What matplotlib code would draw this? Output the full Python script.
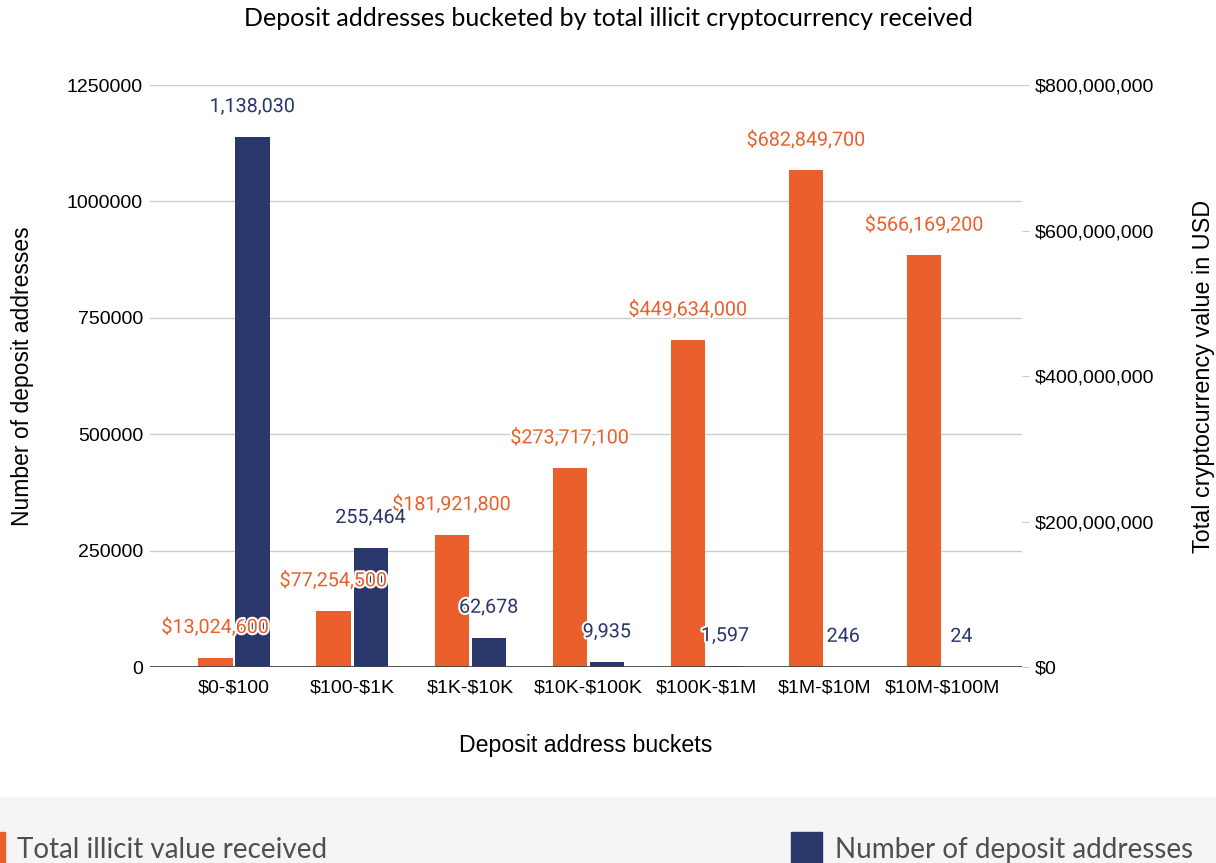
import numpy as np
import matplotlib.pyplot as plt
import matplotlib.patheffects as pe
from matplotlib.patches import Rectangle
from matplotlib.ticker import FuncFormatter

plt.rcParams['text.parse_math'] = False

# data
buckets = ['$0-$100', '$100-$1K', '$1K-$10K', '$10K-$100K', '$100K-$1M', '$1M-$10M', '$10M-$100M']
illicit_value = [13024600, 77254500, 181921800, 273717100, 449634000, 682849700, 566169200]
n_addresses = [1138030, 255464, 62678, 9935, 1597, 246, 24]

orange = '#EA5F2C'
navy = '#2A376A'

fig = plt.figure(figsize=(12.16, 8.63), dpi=100)
ax = fig.add_axes([0.1234, 0.2271, 0.7171, 0.6744])
ax2 = ax.twinx()

x = np.arange(len(buckets))
w = 0.29
off = 0.157

# orange on right axis, navy on left axis
ax2.bar(x - off, illicit_value, w, color=orange, zorder=3)
ax.bar(x + off, n_addresses, w, color=navy, zorder=3)

ax.set_ylim(0, 1250000)
ax2.set_ylim(0, 800000000)
ax.set_xlim(-0.71, 6.67)
ax.set_yticks([0, 250000, 500000, 750000, 1000000, 1250000])
ax.yaxis.set_major_formatter(FuncFormatter(lambda v, p: '{:.0f}'.format(v)))
ax2.set_yticks([0, 200000000, 400000000, 600000000, 800000000])
ax2.yaxis.set_major_formatter(FuncFormatter(lambda v, p: '${:,.0f}'.format(v)))

ax.grid(axis='y', color='#cccccc', linewidth=1, zorder=0)
ax.set_axisbelow(True)
for a in (ax, ax2):
    for s in ['top', 'left', 'right', 'bottom']:
        a.spines[s].set_visible(False)
ax2.axhline(0, color='#444444', linewidth=2, zorder=5)

tickfont = 'Liberation Sans'
ax.set_xticks(x)
ax.set_xticklabels(buckets, fontsize=14, family=tickfont)
ax.tick_params(axis='x', length=0, pad=9)
ax.tick_params(axis='y', length=0, pad=5, labelsize=14)
ax2.tick_params(axis='y', length=5, color='#cccccc', pad=4, labelsize=14)
for lab in ax.get_yticklabels() + ax2.get_yticklabels():
    lab.set_family(tickfont)

ax.set_ylabel('Number of deposit addresses', fontsize=16.5, family=tickfont, labelpad=24)
ax2.set_ylabel('Total cryptocurrency value in USD', fontsize=16.8, family=tickfont, labelpad=27)
ax.set_xlabel('Deposit address buckets', fontsize=16.7, family=tickfont, labelpad=27)

stroke = [pe.withStroke(linewidth=3, foreground='white')]
for xi, v in zip(x, illicit_value):
    ax2.annotate('${:,}'.format(v), (xi - off, v), xytext=(0, 22), textcoords='offset points',
                 ha='center', va='center', fontsize=14.2, color=orange, family='Roboto',
                 path_effects=stroke, zorder=6)
for xi, v in zip(x, n_addresses):
    ax2.annotate('{:,}'.format(v), (xi + off, v), xycoords=ax.transData, xytext=(0, 22),
                 textcoords='offset points', ha='center', va='center', fontsize=14.2,
                 color=navy, family='Roboto', path_effects=stroke, zorder=6)

fig.text(0.5, 0.979, 'Deposit addresses bucketed by total illicit cryptocurrency received',
         ha='center', va='center', fontsize=18, family='Lato')

# legend strip
fig.patches.append(Rectangle((0, 0), 1, 66 / 863, transform=fig.transFigure,
                             color='#f5f5f5', zorder=0))
fig.patches.append(Rectangle((0, 0), 5 / 1216, 31 / 863, transform=fig.transFigure,
                             color=orange, zorder=1))
fig.patches.append(Rectangle((791 / 1216, 0), 31 / 1216, 31 / 863, transform=fig.transFigure,
                             color=navy, zorder=1))
fig.text(17 / 1216, 13 / 863, 'Total illicit value received', fontsize=20, color='#4f4f4f',
         family='Lato', va='center', ha='left')
fig.text(835 / 1216, 13 / 863, 'Number of deposit addresses', fontsize=20, color='#4f4f4f',
         family='Lato', va='center', ha='left')

fig.savefig('out.png', dpi=100)
